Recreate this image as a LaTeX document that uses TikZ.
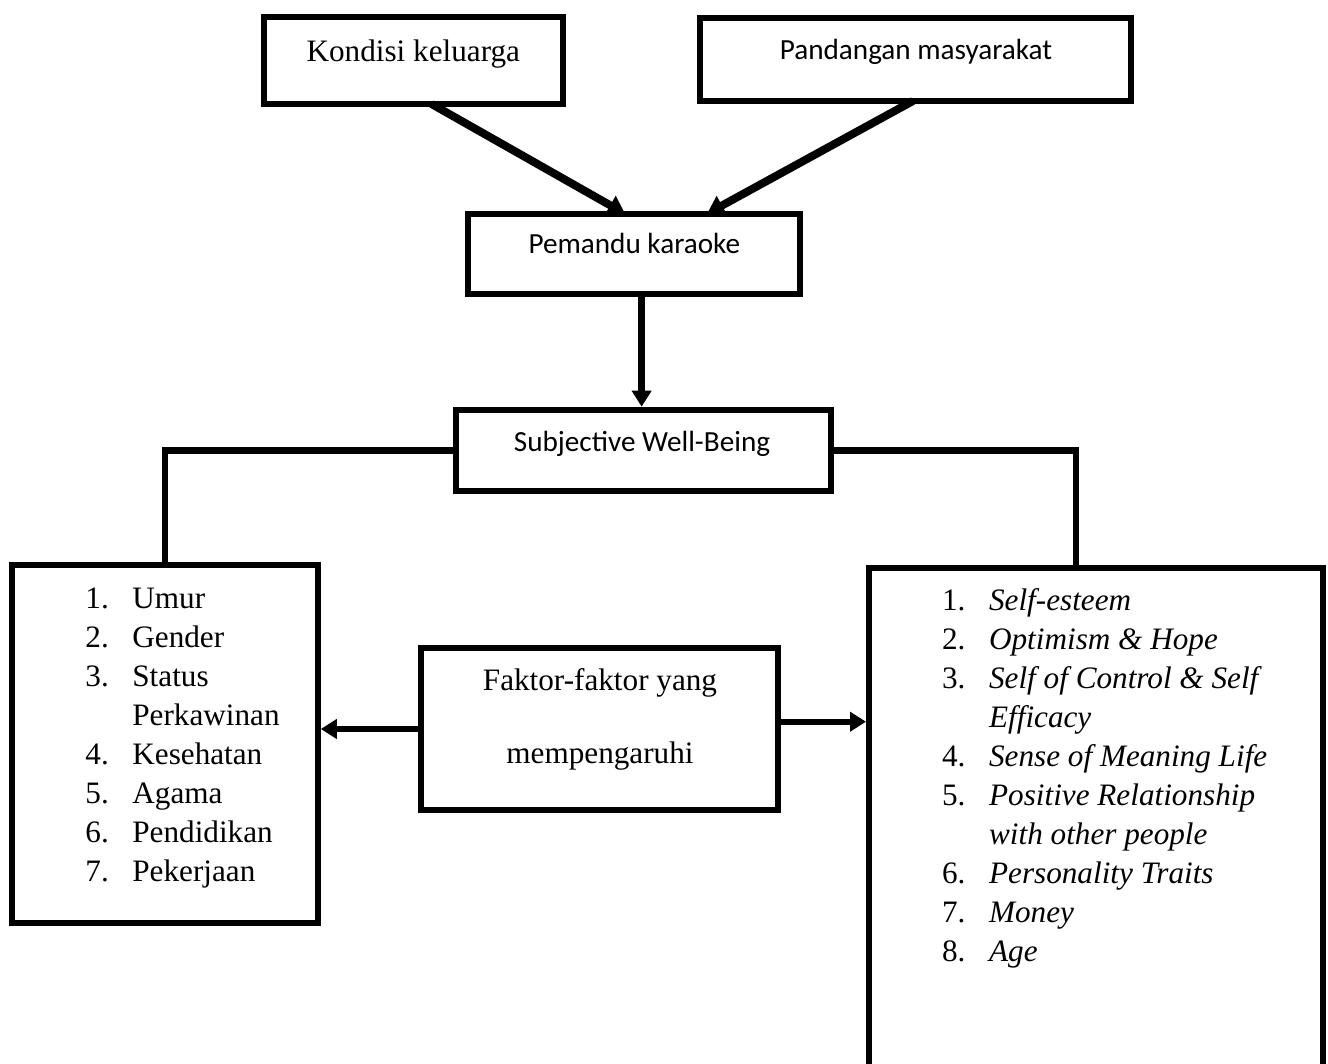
\documentclass[tikz,border=0pt]{standalone}
\usepackage{fontspec}
\setmainfont{Liberation Serif}
\newfontfamily\calibrifont{Carlito}
\usetikzlibrary{arrows.meta,calc}
\begin{document}
\begin{tikzpicture}[x=0.5pt,y=-0.5pt,
  box/.style={draw, line width=3pt, rectangle, inner sep=0pt, outer sep=0pt},
  conn/.style={line width=3.2pt},
  arr/.style={conn, -{Triangle[length=8pt,width=9.5pt]}},
  diag/.style={line width=4pt, -{Triangle[length=8.5pt,width=10.5pt]}},
  serif/.style={font=\fontsize{15.6}{19.55}\selectfont, inner sep=0pt, anchor=base},
  sans/.style={font=\calibrifont\fontsize{14.6}{17.5}\selectfont, inner sep=0pt, anchor=base},
  list/.style={font=\fontsize{15.6}{19.55}\selectfont, inner sep=0pt, anchor=base west}]
\useasboundingbox (0,0) rectangle (1328,1064);
\clip (0,0) rectangle (1328,1064);
% boxes
\node[box, minimum width=149.65pt, minimum height=43.5pt] (kondisi) at (413.3,60.5) {};
\node[box, minimum width=215.5pt, minimum height=41.5pt] (pandangan) at (915.5,59.5) {};
\node[box, minimum width=166pt, minimum height=40pt] (pemandu) at (634,253.7) {};
\node[box, minimum width=187.25pt, minimum height=40.65pt] (swb) at (643.25,450.35) {};
\node[box, minimum width=153pt, minimum height=179pt] (leftbox) at (165,744) {};
\node[box, minimum width=178.5pt, minimum height=81pt] (faktor) at (599.5,729) {};
\node[box, minimum width=227pt, minimum height=276pt] (rightbox) at (1096,844) {};
% texts
\node[serif] (tkondisi) at (413.3,61.7) {Kondisi keluarga};
\node[sans] (tpandangan) at (916,59.3) {Pandangan masyarakat};
\node[sans] (tpemandu) at (634.3,254) {Pemandu karaoke};
\node[sans] (tswb) at (642,451.7) {Subjective Well-Being};
\node[serif] (tfaktora) at (600,690) {Faktor-faktor yang};
\node[serif] (tfaktorb) at (600,763.3) {mempengaruhi};
\node[list] (lleft) at (85,608) {\begin{tabular}[t]{@{}l@{\hspace{11.8pt}}l@{}}
1.&Umur\\
2.&Gender\\
3.&Status\\
&Perkawinan\\
4.&Kesehatan\\
5.&Agama\\
6.&Pendidikan\\
7.&Pekerjaan
\end{tabular}};
\node[list] (lright) at (941.7,610) {\begin{tabular}[t]{@{}l@{\hspace{11.8pt}}l@{}}
1.&\textit{Self-esteem}\\
2.&\textit{Optimism \& Hope}\\
3.&\textit{Self of Control \& Self}\\
&\textit{Efficacy}\\
4.&\textit{Sense of Meaning Life}\\
5.&\textit{Positive Relationship}\\
&\textit{with other people}\\
6.&\textit{Personality Traits}\\
7.&\textit{Money}\\
8.&\textit{Age}
\end{tabular}};
% connectors
\draw[diag] ($(kondisi.south west)!0.561!(kondisi.south east)$) -- ($(pemandu.north west)!0.473!(pemandu.north east)$);
\draw[diag] ($(pandangan.south west)!0.494!(pandangan.south east)$) -- ($(pemandu.north west)!0.72!(pemandu.north east)$);
\coordinate (pm) at ($(pemandu.south west)!0.523!(pemandu.south east)$);
\draw[arr, shorten >=1.5pt] (pm) -- (pm |- swb.north);
\draw[conn] (swb.west) -| (leftbox.north);
\coordinate (rt) at ($(rightbox.north west)!0.456!(rightbox.north east)$);
\draw[conn] (swb.east) -| (rt);
\draw[arr, shorten >=1.4pt] (faktor.west) -- (faktor.west -| leftbox.east);
\coordinate (fr) at ($(faktor.north east)!0.455!(faktor.south east)$);
\draw[arr, shorten >=1.5pt] (fr) -- (fr -| rightbox.west);
\end{tikzpicture}
\end{document}
